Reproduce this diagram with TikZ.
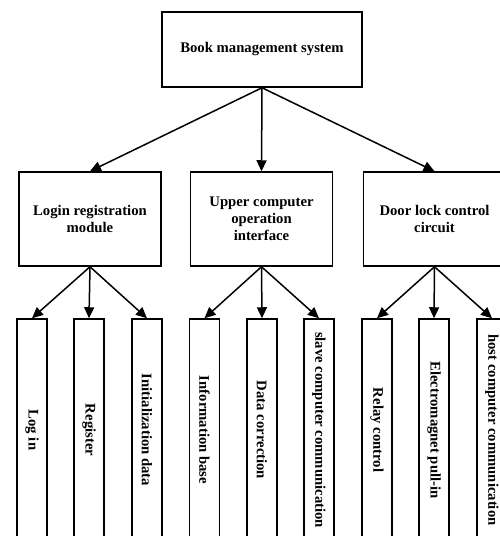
\documentclass[tikz,border=0pt]{standalone}
\usepackage{fontspec}
\setmainfont{Liberation Serif}
\usetikzlibrary{arrows.meta}
\begin{document}
\begin{tikzpicture}[x=1pt,y=-1pt,
  box/.style={draw,line width=1.5pt,inner sep=0pt,align=center,
    font=\fontsize{14.7}{17}\selectfont\bfseries},
  topbox/.style={box,minimum width=200pt,minimum height=75pt},
  midbox/.style={box,minimum width=142pt,minimum height=94pt},
  leafbox/.style={box,rotate=-90,minimum width=222pt,minimum height=30pt},
  arr/.style={line width=1.5pt,-{Triangle[length=11pt,width=10pt]}}]
\useasboundingbox (0,0) rectangle (500,536);
\clip (0,0) rectangle (500,536);
\fill[white] (0,0) rectangle (500,536);
\node[topbox] (root) at (262,49.5) {Book management system};
\node[midbox] (m1) at (90,219) {Login registration\\module};
\node[midbox] (m2) at (261.5,219) {Upper computer\\operation\\interface};
\node[midbox] (m3) at (434.5,219) {Door lock control\\circuit};
\node[leafbox] (l1) at (32,430) {Log in};
\node[leafbox] (l2) at (89,430) {Register};
\node[leafbox] (l3) at (147,430) {Initialization data};
\node[leafbox] (l4) at (204.5,430) {Information base};
\node[leafbox] (l5) at (262,430) {Data correction};
\node[leafbox] (l6) at (319,430) {slave computer communication};
\node[leafbox] (l7) at (377,430) {Relay control};
\node[leafbox] (l8) at (434,430) {Electromagnet pull-in};
\node[leafbox] (l9) at (492,430) {host computer communication};
\foreach \m in {m1,m2,m3} \draw[arr] (root.south) -- (\m.north);
\foreach \l in {l1,l2,l3} \draw[arr] (m1.south) -- (\l.west);
\foreach \l in {l4,l5,l6} \draw[arr] (m2.south) -- (\l.west);
\foreach \l in {l7,l8,l9} \draw[arr] (m3.south) -- (\l.west);
\end{tikzpicture}
\end{document}
